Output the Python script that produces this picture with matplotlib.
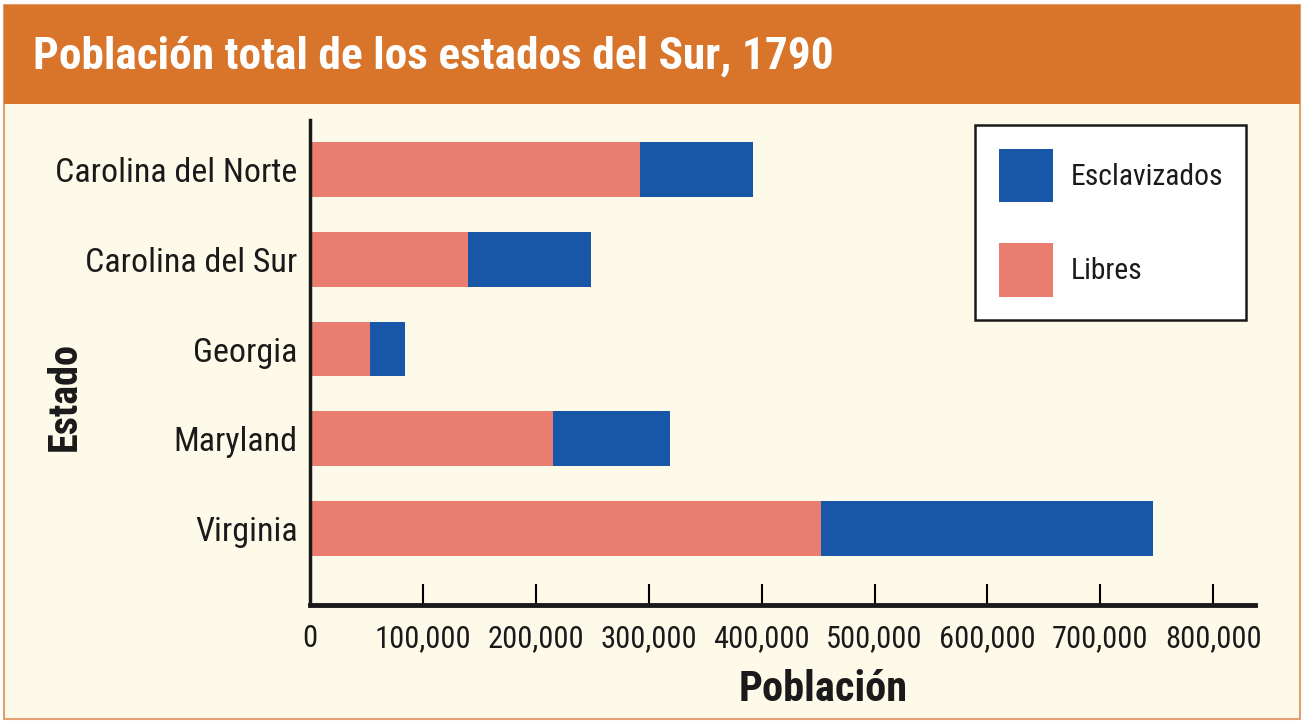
import matplotlib
matplotlib.use("Agg")
import matplotlib.pyplot as plt
from matplotlib import font_manager
from matplotlib.patches import Rectangle, Patch

# pick a narrow family if one is installed
narrow = None
for fam in ["Roboto Condensed", "Liberation Sans Narrow", "Open Sans Condensed", "DejaVu Sans Condensed"]:
    try:
        font_manager.findfont(font_manager.FontProperties(family=fam), fallback_to_default=False)
        narrow = fam
        break
    except ValueError:
        pass
fams = ([narrow] if narrow else []) + ['Roboto', 'DejaVu Sans']
plt.rcParams['font.family'] = fams
k = 1.0 if narrow else 0.82

estados = ["Carolina del Norte", "Carolina del Sur", "Georgia", "Maryland", "Virginia"]
libres = [292000, 140000, 53000, 215000, 453000]
esclavizados = [100000, 109000, 31000, 104000, 294000]
ticks_x = [0, 100000, 200000, 300000, 400000, 500000, 600000, 700000, 800000]
tick_labels = ["0", "100,000", "200,000", "300,000", "400,000", "500,000",
               "600,000", "700,000", "800,000"]

salmon = "#E97D70"
azul = "#1857A8"
naranja = "#D9752B"
crema = "#FEFAEA"

fig = plt.figure(figsize=(13.04, 7.24), dpi=100)
fig.patch.set_facecolor("white")

# cream panel with thin border, orange header
W, H = 1304.0, 724.0
fig.patches.append(Rectangle((4 / W, 1 - 719 / H), 1296 / W, 714 / H, transform=fig.transFigure,
                             facecolor=crema, edgecolor="#E2A070", linewidth=1.5, zorder=-2))
fig.patches.append(Rectangle((4 / W, 1 - 104 / H), 1296 / W, 99 / H, transform=fig.transFigure,
                             facecolor=naranja, edgecolor="none", zorder=-1))
fig.text(33 / W, 1 - 57 / H, "Población total de los estados del Sur, 1790", color="white",
         fontsize=32.7 * k, fontweight="bold", va="center", ha="left")

ax = fig.add_axes([310 / W, 1 - 605 / H, 945 / W, 485 / H])
ax.set_zorder(2)
ax.set_facecolor("none")

y = list(range(len(estados) - 1, -1, -1))
ax.barh(y, libres, height=0.61, color=salmon, label="Libres")
ax.barh(y, esclavizados, left=libres, height=0.61, color=azul, label="Esclavizados")

ax.set_xlim(0, 837000)
ax.set_ylim(-0.85, 4.55)
ax.set_yticks(y)
ax.set_yticklabels(estados, fontsize=24.5 * k, color="#1a1a1a")
ax.set_xticks(ticks_x)
ax.set_xticklabels(tick_labels, fontsize=22 * k, color="#1a1a1a")
ax.tick_params(axis="y", length=0, pad=9)
ax.tick_params(axis="x", direction="in", length=15, width=1.5, pad=14)
ax.xaxis.get_major_ticks()[0].tick1line.set_visible(False)

for s in ["top", "right"]:
    ax.spines[s].set_visible(False)
ax.spines["left"].set_linewidth(2.5)
ax.spines["bottom"].set_linewidth(3.5)
ax.spines["left"].set_color("#1a1a1a")
ax.spines["bottom"].set_color("#1a1a1a")

ax.set_xlabel("Población", fontsize=30.5 * k, fontweight="bold", color="#1a1a1a",
              va="center")
ax.xaxis.set_label_coords(0.543, -0.175)
ax.set_ylabel("Estado", fontsize=29 * k, fontweight="bold", color="#1a1a1a",
              va="center")
ax.yaxis.set_label_coords(-0.26, 0.43)

handles = [Patch(facecolor=azul, label="Esclavizados"), Patch(facecolor=salmon, label="Libres")]
leg = fig.legend(handles=handles, loc="upper left", bbox_to_anchor=(975 / W, 1 - 125 / H),
                 fontsize=21.3 * k, frameon=True, fancybox=False, edgecolor="#1a1a1a",
                 framealpha=1, handlelength=1.82, handleheight=2.42, labelspacing=1.37,
                 borderpad=0.8, handletextpad=0.6, borderaxespad=0)
leg.get_frame().set_linewidth(1.8)
leg.get_frame().set_facecolor("white")
for t in leg.get_texts():
    t.set_color("#1a1a1a")

fig.savefig("out.png", dpi=100, facecolor=fig.get_facecolor())
